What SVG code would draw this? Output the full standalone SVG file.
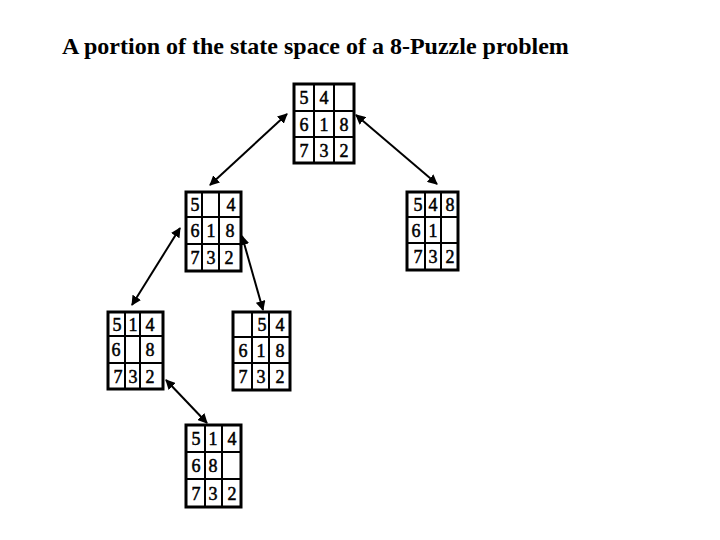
<svg xmlns="http://www.w3.org/2000/svg" width="720" height="540" viewBox="0 0 720 540">
<style>
.b{fill:none;stroke:#000;stroke-width:3}
.l{stroke:#000;stroke-width:2}
.d{font-family:"Liberation Serif","Times New Roman",serif;font-size:18px;fill:#000;stroke:#000;stroke-width:0.5;text-anchor:middle}
.t{font-family:"Liberation Serif","Times New Roman",serif;font-size:24px;font-weight:bold;fill:#000}
.c{stroke:#000;stroke-width:2;fill:none;marker-start:url(#ah);marker-end:url(#ah)}
</style>
<defs>
<marker id="ah" viewBox="0 0 10 10" refX="9" refY="5" markerWidth="5" markerHeight="5" orient="auto-start-reverse">
<path d="M0,0 L10,5 L0,10 z" fill="#000"/>
</marker>
</defs>
<rect width="720" height="540" fill="#fff"/>
<text class="t" x="62" y="54">A portion of the state space of a 8-Puzzle problem</text>
<g id="n1">
<rect class="b" x="294" y="84" width="60" height="79"/>
<line class="l" x1="314" y1="84" x2="314" y2="163"/><line class="l" x1="334" y1="84" x2="334" y2="163"/>
<line class="l" x1="294" y1="111" x2="354" y2="111"/><line class="l" x1="294" y1="137" x2="354" y2="137"/>
<text class="d" x="304" y="104">5</text><text class="d" x="324" y="104">4</text>
<text class="d" x="304" y="130.5">6</text><text class="d" x="324" y="130.5">1</text><text class="d" x="344" y="130.5">8</text>
<text class="d" x="304" y="156.5">7</text><text class="d" x="324" y="156.5">3</text><text class="d" x="344" y="156.5">2</text>
</g>
<g id="n2">
<rect class="b" x="186" y="192" width="55" height="79"/>
<line class="l" x1="202" y1="192" x2="202" y2="271"/><line class="l" x1="219" y1="192" x2="219" y2="271"/>
<line class="l" x1="186" y1="217" x2="241" y2="217"/><line class="l" x1="186" y1="244" x2="241" y2="244"/>
<text class="d" x="195" y="211">5</text><text class="d" x="231" y="211">4</text>
<text class="d" x="195" y="237">6</text><text class="d" x="211" y="237">1</text><text class="d" x="230" y="237">8</text>
<text class="d" x="195" y="264">7</text><text class="d" x="211" y="264">3</text><text class="d" x="229" y="264">2</text>
</g>
<g id="n3">
<rect class="b" x="407" y="192" width="51" height="78"/>
<line class="l" x1="425" y1="192" x2="425" y2="270"/><line class="l" x1="441" y1="192" x2="441" y2="270"/>
<line class="l" x1="407" y1="217" x2="458" y2="217"/><line class="l" x1="407" y1="243" x2="458" y2="243"/>
<text class="d" x="418" y="211">5</text><text class="d" x="433" y="211">4</text><text class="d" x="450" y="211">8</text>
<text class="d" x="416" y="236.5">6</text><text class="d" x="433" y="236.5">1</text>
<text class="d" x="418" y="263">7</text><text class="d" x="433" y="263">3</text><text class="d" x="450" y="263">2</text>
</g>
<g id="n4">
<rect class="b" x="108" y="312" width="55" height="77"/>
<line class="l" x1="125" y1="312" x2="125" y2="389"/><line class="l" x1="140" y1="312" x2="140" y2="389"/>
<line class="l" x1="108" y1="336" x2="163" y2="336"/><line class="l" x1="108" y1="363" x2="163" y2="363"/>
<text class="d" x="117" y="330.5">5</text><text class="d" x="133" y="330.5">1</text><text class="d" x="150" y="330.5">4</text>
<text class="d" x="116" y="356">6</text><text class="d" x="150" y="356">8</text>
<text class="d" x="118" y="382.5">7</text><text class="d" x="133" y="382.5">3</text><text class="d" x="150" y="382.5">2</text>
</g>
<g id="n5">
<rect class="b" x="233" y="312" width="57" height="78"/>
<line class="l" x1="252" y1="312" x2="252" y2="390"/><line class="l" x1="269" y1="312" x2="269" y2="390"/>
<line class="l" x1="233" y1="337" x2="290" y2="337"/><line class="l" x1="233" y1="363" x2="290" y2="363"/>
<text class="d" x="262" y="331">5</text><text class="d" x="280" y="331">4</text>
<text class="d" x="243" y="356.5">6</text><text class="d" x="261" y="356.5">1</text><text class="d" x="280" y="356.5">8</text>
<text class="d" x="243" y="383">7</text><text class="d" x="261" y="383">3</text><text class="d" x="280" y="383">2</text>
</g>
<g id="n6">
<rect class="b" x="186" y="425" width="55" height="82"/>
<line class="l" x1="205" y1="425" x2="205" y2="507"/><line class="l" x1="222" y1="425" x2="222" y2="507"/>
<line class="l" x1="186" y1="452" x2="241" y2="452"/><line class="l" x1="186" y1="479" x2="241" y2="479"/>
<text class="d" x="196" y="445">5</text><text class="d" x="213" y="445">1</text><text class="d" x="232" y="445">4</text>
<text class="d" x="196" y="472">6</text><text class="d" x="213" y="472">8</text>
<text class="d" x="196" y="499.5">7</text><text class="d" x="213" y="499.5">3</text><text class="d" x="232" y="499.5">2</text>
</g>
<g id="connectors">
<line class="c" x1="287" y1="114" x2="210" y2="185"/>
<line class="c" x1="356" y1="115" x2="437" y2="184"/>
<line class="c" x1="180" y1="228" x2="132" y2="305"/>
<line class="c" x1="242" y1="236" x2="263" y2="310"/>
<line class="c" x1="166" y1="380" x2="207" y2="423"/>
</g>
</svg>
